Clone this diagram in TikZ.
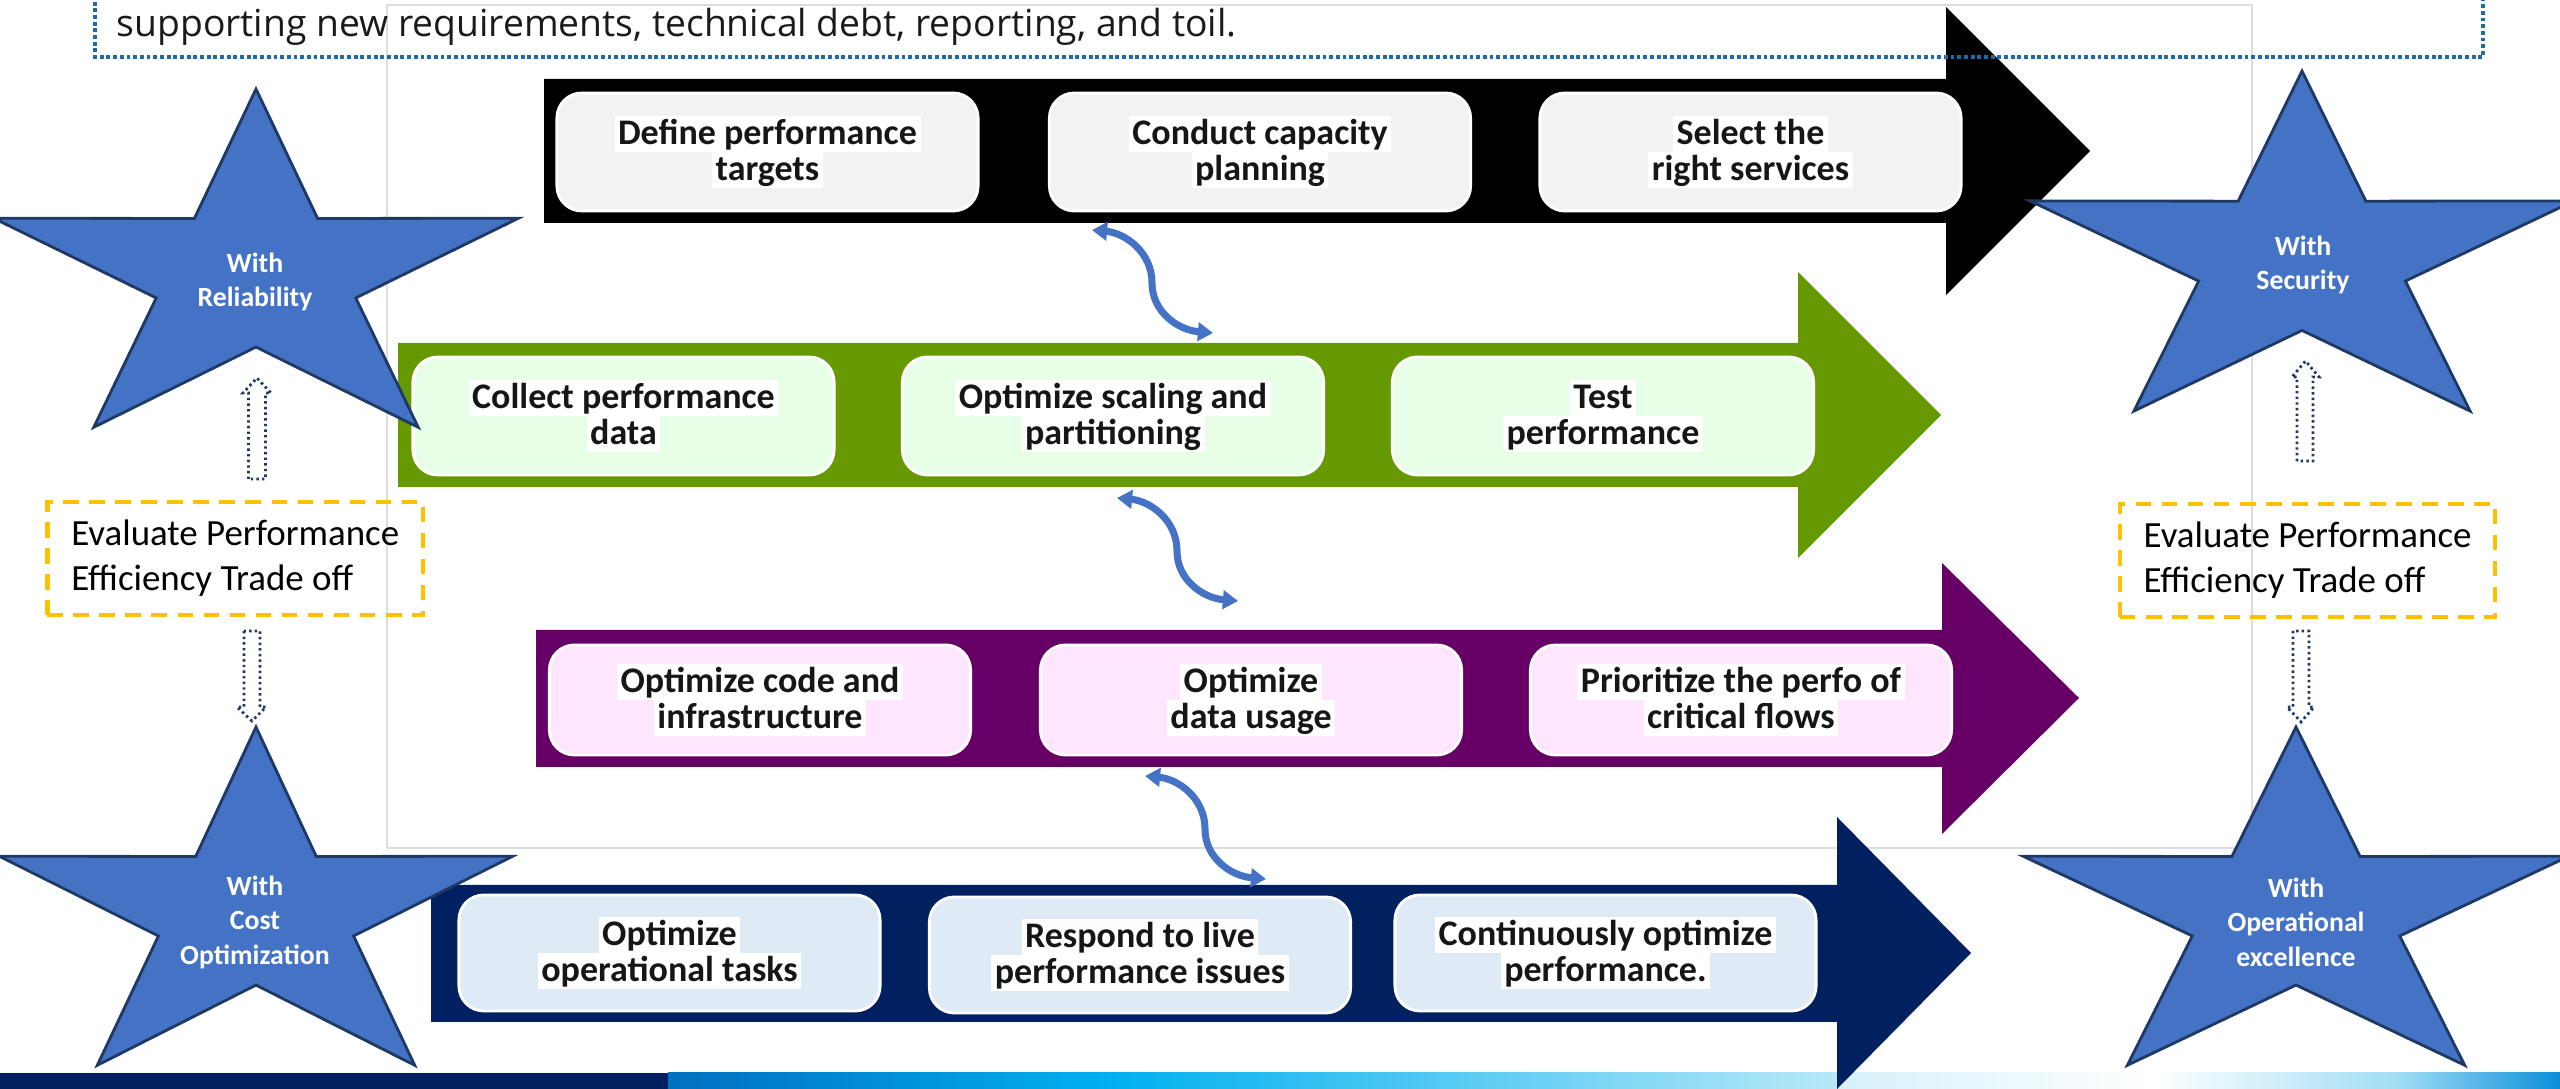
\documentclass[tikz,border=0pt]{standalone}
\usepackage{graphicx}
\usepackage{fontspec}
\setmainfont{Carlito}
\newfontfamily\topfont{Open Sans}
\usetikzlibrary{arrows.meta}

\definecolor{blackbox}{HTML}{F2F2F2}
\definecolor{greenarr}{HTML}{669900}
\definecolor{greenbox}{HTML}{E6FFE6}
\definecolor{purparr}{HTML}{660066}
\definecolor{purpbox}{HTML}{FFE6FF}
\definecolor{navyarr}{HTML}{002060}
\definecolor{navybox}{HTML}{DEEBF7}
\definecolor{starfill}{HTML}{4472C4}
\definecolor{starline}{HTML}{1F3864}
\definecolor{curvecol}{HTML}{4472C4}
\definecolor{gold}{HTML}{FFC000}
\definecolor{dotblue}{HTML}{1F6AA5}
\definecolor{greyframe}{HTML}{DDDDDD}
\definecolor{txt}{HTML}{161616}

\newcommand{\hl}[1]{{\setlength{\fboxsep}{0pt}\colorbox{white}{\hspace{1pt}\rule[-0.22em]{0pt}{1.0em}#1\hspace{1pt}}}}

\newcommand{\mystar}[4]{%
  \draw[starsty] ({#1},{#2-#4})
  \foreach \k in {1,...,9}{ -- ({#1+#3*(1-0.62*mod(\k,2))*cos(90+36*\k)},{#2-#4*(1-0.62*mod(\k,2))*sin(90+36*\k)}) } -- cycle;}

\tikzset{
  stepbox/.style={rounded corners=0.25cm, draw=white, line width=0.8pt,
    minimum width=4.21cm, minimum height=1.18cm, align=center, inner sep=0pt,
    text=txt, font=\fontsize{10.24}{10.24}\selectfont\bfseries},
  startxt/.style={text=white, align=center, inner sep=0pt,
    font=\fontsize{7.9}{9.8}\selectfont\bfseries},
  evalbox/.style={draw=gold, line width=1.2pt, dash pattern=on 4.5pt off 2.9pt,
    align=left, minimum width=3.755cm, minimum height=1.13cm, inner sep=0pt,
    font=\fontsize{10.5}{12.8}\selectfont},
  hollow/.style={draw=starline, line width=0.8pt, dash pattern=on 0.7pt off 0.9pt},
  curv/.style={draw=curvecol, line width=2pt,
    arrows={Triangle[length=4.3pt,width=5.2pt]-Triangle[length=4.3pt,width=5.2pt]}},
  starsty/.style={fill=starfill, draw=starline, line width=0.8pt},
}

\begin{document}
\begin{tikzpicture}[x=0.01cm,y=-0.01cm]
\useasboundingbox (0,0) rectangle (2560,1089);

% light grey frame
\draw[greyframe, line width=0.6pt] (387,5) rectangle (2252,848);

% bottom bar
\fill[navyarr] (0,1073) rectangle (668,1089);
\shade[left color={rgb,255:red,0;green,112;blue,192}, right color={rgb,255:red,0;green,176;blue,240}] (668,1073) rectangle (1110,1089);
\shade[left color={rgb,255:red,0;green,176;blue,240}, right color={rgb,255:red,184;green,232;blue,248}] (1110,1073) rectangle (1837,1089);
\shade[left color={rgb,255:red,214;green,241;blue,251}, right color=white] (1837,1073) rectangle (2155,1089);
\shade[left color=white, right color={rgb,255:red,160;green,220;blue,245}] (2155,1073) rectangle (2400,1089);
\shade[left color={rgb,255:red,160;green,220;blue,245}, right color={rgb,255:red,10;green,143;blue,216}] (2400,1073) rectangle (2560,1089);

% block arrows
\fill[black] (544,79) -- (1946,79) -- (1946,7) -- (2090,151) -- (1946,295) -- (1946,223) -- (544,223) -- cycle;
\fill[greenarr] (398,343) -- (1798,343) -- (1798,272) -- (1941,415) -- (1798,558) -- (1798,487) -- (398,487) -- cycle;
\fill[purparr] (536,630) -- (1942,630) -- (1942,563) -- (2079,698) -- (1942,834) -- (1942,767) -- (536,767) -- cycle;
\fill[navyarr] (431,885) -- (1837,885) -- (1837,817) -- (1971,953) -- (1837,1089) -- (1837,1022) -- (431,1022) -- cycle;

% step boxes
\node[stepbox, fill=blackbox] (b1) at (767.5,152) {\hl{Define performance}\\\hl{targets}};
\node[stepbox, fill=blackbox] (b2) at (1260,152) {\hl{Conduct capacity}\\\hl{planning}};
\node[stepbox, fill=blackbox] (b3) at (1750.5,152) {\hl{Select the}\\\hl{right services}};

\node[stepbox, fill=greenbox] (g1) at (623.5,416) {\hl{Collect performance}\\\hl{data}};
\node[stepbox, fill=greenbox] (g2) at (1113,416) {\hl{Optimize scaling and}\\\hl{partitioning}};
\node[stepbox, fill=greenbox] (g3) at (1603,416) {\hl{Test}\\\hl{performance}};

\node[stepbox, fill=purpbox, minimum height=1.10cm] (p1) at (760,700) {\hl{Optimize code and}\\\hl{infrastructure}};
\node[stepbox, fill=purpbox, minimum height=1.10cm] (p2) at (1251,700) {\hl{Optimize}\\\hl{data usage}};
\node[stepbox, fill=purpbox, minimum height=1.10cm] (p3) at (1741,700) {\hl{Prioritize the perfo of}\\\hl{critical flows}};

\node[stepbox, fill=navybox, minimum height=1.16cm] (n1) at (669.5,953) {\hl{Optimize}\\\hl{operational tasks}};
\node[stepbox, fill=navybox, minimum height=1.16cm] (n2) at (1140,955) {\hl{Respond to live}\\\hl{performance issues}};
\node[stepbox, fill=navybox, minimum height=1.16cm] (n3) at (1605.5,953) {\hl{Continuously optimize}\\\hl{performance.}};

% curved double arrows
\coordinate (k1a) at (1092,230); \coordinate (k1m) at (1152,283); \coordinate (k1b) at (1213,333);
\coordinate (k2a) at (1117,498); \coordinate (k2m) at (1177,551); \coordinate (k2b) at (1238,601);
\coordinate (k3a) at (1145,776); \coordinate (k3m) at (1205,829); \coordinate (k3b) at (1266,879);
\draw[curv] (k1a) .. controls +(33,3) and +(0,-31) .. (k1m) .. controls +(0,29) and +(-35,-3) .. (k1b);
\draw[curv] (k2a) .. controls +(33,3) and +(0,-31) .. (k2m) .. controls +(0,29) and +(-35,-3) .. (k2b);
\draw[curv] (k3a) .. controls +(33,3) and +(0,-31) .. (k3m) .. controls +(0,29) and +(-35,-3) .. (k3b);

% stars
\mystar{256}{276}{276}{187}
\mystar{2302}{259}{286}{188}
\mystar{256}{914}{270}{187}
\mystar{2296}{914}{287}{187}
\node[startxt] (srel) at (255,282) {With\\Reliability};
\node[startxt] (ssec) at (2303,265) {With\\Security};
\node[startxt] (scost) at (255,922) {With\\Cost\\Optimization};
\node[startxt] (sops) at (2296,922) {With\\Operational\\excellence};

% evaluate boxes
\node[evalbox] (evl) at (235.25,558.5) {Evaluate Performance\\Efficiency Trade off};
\node[evalbox] (evr) at (2307.5,560.5) {Evaluate Performance\\Efficiency Trade off};

% hollow dotted block arrows
\draw[hollow] (248.5,479) -- (248.5,393) -- (243,393) -- (257,378) -- (271,393) -- (265.5,393) -- (265.5,479) -- cycle;
\draw[hollow] (244,631) -- (244,707) -- (237,707) -- (252,721) -- (266,707) -- (260,707) -- (260,631) -- cycle;
\draw[hollow] (2297,461) -- (2297,377) -- (2292,377) -- (2305.5,361) -- (2319,377) -- (2313,377) -- (2313,461) -- cycle;
\draw[hollow] (2293,631) -- (2293,707) -- (2287,707) -- (2301,722) -- (2314,707) -- (2309,707) -- (2309,631) -- cycle;

% top text box
\draw[dotblue, line width=1.1pt, dash pattern=on 1.1pt off 0.8pt] (95,-5) -- (95,57) -- (2483,57) -- (2483,-5);
\node[anchor=base west, inner sep=0pt, text={rgb,255:red,26;green,26;blue,26}, font=\topfont\fontsize{10.6}{12}\selectfont] (toptext) at (116,37)
  {supporting new requirements, technical debt, reporting, and toil.};
\end{tikzpicture}
\end{document}
